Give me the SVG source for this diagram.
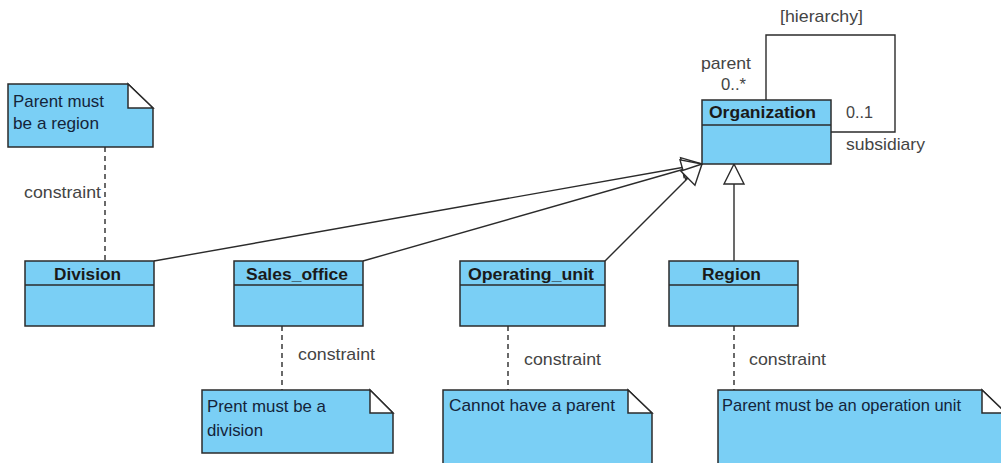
<svg xmlns="http://www.w3.org/2000/svg" width="1001" height="463" viewBox="0 0 1001 463">
<style>
  .box{fill:#7acff5;stroke:#2b2b2b;stroke-width:1.5}
  .div{stroke:#2b2b2b;stroke-width:1.5}
  .fold{fill:#ffffff;stroke:#2b2b2b;stroke-width:1.5;stroke-linejoin:miter}
  .cls{font-family:"Liberation Sans",Arial,sans-serif;font-size:16.5px;font-weight:bold;fill:#1a1a1a}
  .note{font-family:"Liberation Sans",Arial,sans-serif;font-size:17px;fill:#14243a}
  .lbl{font-family:"Liberation Sans",Arial,sans-serif;font-size:17px;fill:#444444}
  .gen{fill:none;stroke:#2b2b2b;stroke-width:1.4;marker-end:url(#tri)}
  .dash{fill:none;stroke:#2b2b2b;stroke-width:1.4;stroke-dasharray:5 4}
  .line{fill:none;stroke:#2b2b2b;stroke-width:1.4}
</style>
<defs>
  <marker id="tri" viewBox="-22 -12 24 24" refX="0" refY="0" markerWidth="24" markerHeight="24" markerUnits="userSpaceOnUse" orient="auto">
    <path d="M0,0 L-20,-10 L-20,10 Z" fill="#ffffff" stroke="#2b2b2b" stroke-width="1.4" stroke-linejoin="miter"/>
  </marker>
</defs>
<rect width="1001" height="463" fill="#ffffff"/>

<g id="connectors">
  <polyline class="line" points="766,100 766,35 895,35 895,132 831,132"/>
  <line class="gen" x1="154" y1="261" x2="702" y2="164"/>
  <line class="gen" x1="363" y1="261" x2="702" y2="164"/>
  <line class="gen" x1="605" y1="261" x2="702" y2="164"/>
  <line class="gen" x1="734" y1="261" x2="734" y2="164"/>
  <line class="dash" x1="105" y1="147" x2="105" y2="261"/>
  <line class="dash" x1="282" y1="326" x2="282" y2="390"/>
  <line class="dash" x1="508" y1="326" x2="508" y2="390"/>
  <line class="dash" x1="734" y1="326" x2="734" y2="390"/>
  <text class="lbl" x="780" y="22" textLength="83" lengthAdjust="spacingAndGlyphs">[hierarchy]</text>
  <text class="lbl" x="701" y="69" textLength="50" lengthAdjust="spacingAndGlyphs">parent</text>
  <text class="lbl" x="721" y="90" textLength="25" lengthAdjust="spacingAndGlyphs">0..*</text>
  <text class="lbl" x="846" y="118" textLength="27" lengthAdjust="spacingAndGlyphs">0..1</text>
  <text class="lbl" x="846" y="150" textLength="79" lengthAdjust="spacingAndGlyphs">subsidiary</text>
  <text class="lbl" x="24" y="198" textLength="77" lengthAdjust="spacingAndGlyphs">constraint</text>
  <text class="lbl" x="298" y="360" textLength="77" lengthAdjust="spacingAndGlyphs">constraint</text>
  <text class="lbl" x="524" y="365" textLength="77" lengthAdjust="spacingAndGlyphs">constraint</text>
  <text class="lbl" x="749" y="365" textLength="77" lengthAdjust="spacingAndGlyphs">constraint</text>
</g>

<g id="Organization">
  <rect class="box" x="702" y="100" width="129" height="64"/>
  <line class="div" x1="702" y1="125" x2="831" y2="125"/>
  <text class="cls" x="709" y="118" textLength="107" lengthAdjust="spacingAndGlyphs">Organization</text>
</g>

<g id="Division">
  <rect class="box" x="25" y="261" width="129" height="65"/>
  <line class="div" x1="25" y1="285" x2="154" y2="285"/>
  <text class="cls" x="54" y="280" textLength="67" lengthAdjust="spacingAndGlyphs">Division</text>
</g>

<g id="Sales_office">
  <rect class="box" x="234" y="261" width="129" height="65"/>
  <line class="div" x1="234" y1="285" x2="363" y2="285"/>
  <text class="cls" x="246" y="280" textLength="102" lengthAdjust="spacingAndGlyphs">Sales_office</text>
</g>

<g id="Operating_unit">
  <rect class="box" x="460" y="261" width="145" height="65"/>
  <line class="div" x1="460" y1="285" x2="605" y2="285"/>
  <text class="cls" x="468" y="280" textLength="126" lengthAdjust="spacingAndGlyphs">Operating_unit</text>
</g>

<g id="Region">
  <rect class="box" x="669" y="261" width="129" height="65"/>
  <line class="div" x1="669" y1="285" x2="798" y2="285"/>
  <text class="cls" x="702" y="280" textLength="59" lengthAdjust="spacingAndGlyphs">Region</text>
</g>

<g id="note_region">
  <path class="box" d="M8,84 L128,84 L153,108 L153,147 L8,147 Z"/>
  <path class="fold" d="M128,84 L128,108 L153,108 Z"/>
  <text class="note" x="13" y="107" textLength="91" lengthAdjust="spacingAndGlyphs">Parent must</text>
  <text class="note" x="13" y="129" textLength="86" lengthAdjust="spacingAndGlyphs">be a region</text>
</g>

<g id="note_division">
  <path class="box" d="M202,390 L370,390 L393,413 L393,453 L202,453 Z"/>
  <path class="fold" d="M370,390 L370,413 L393,413 Z"/>
  <text class="note" x="207" y="412" textLength="119" lengthAdjust="spacingAndGlyphs">Prent must be a</text>
  <text class="note" x="207" y="436" textLength="56" lengthAdjust="spacingAndGlyphs">division</text>
</g>

<g id="note_parent">
  <path class="box" d="M443,390 L628,390 L652,413 L652,470 L443,470 Z"/>
  <path class="fold" d="M628,390 L628,413 L652,413 Z"/>
  <text class="note" x="449" y="411" textLength="166" lengthAdjust="spacingAndGlyphs">Cannot have a parent</text>
</g>

<g id="note_operation">
  <path class="box" d="M718,390 L982,390 L1006,413 L1006,470 L718,470 Z"/>
  <path class="fold" d="M982,390 L982,413 L1006,413 Z"/>
  <text class="note" x="722" y="411" textLength="239" lengthAdjust="spacingAndGlyphs">Parent must be an operation unit</text>
</g>
</svg>
